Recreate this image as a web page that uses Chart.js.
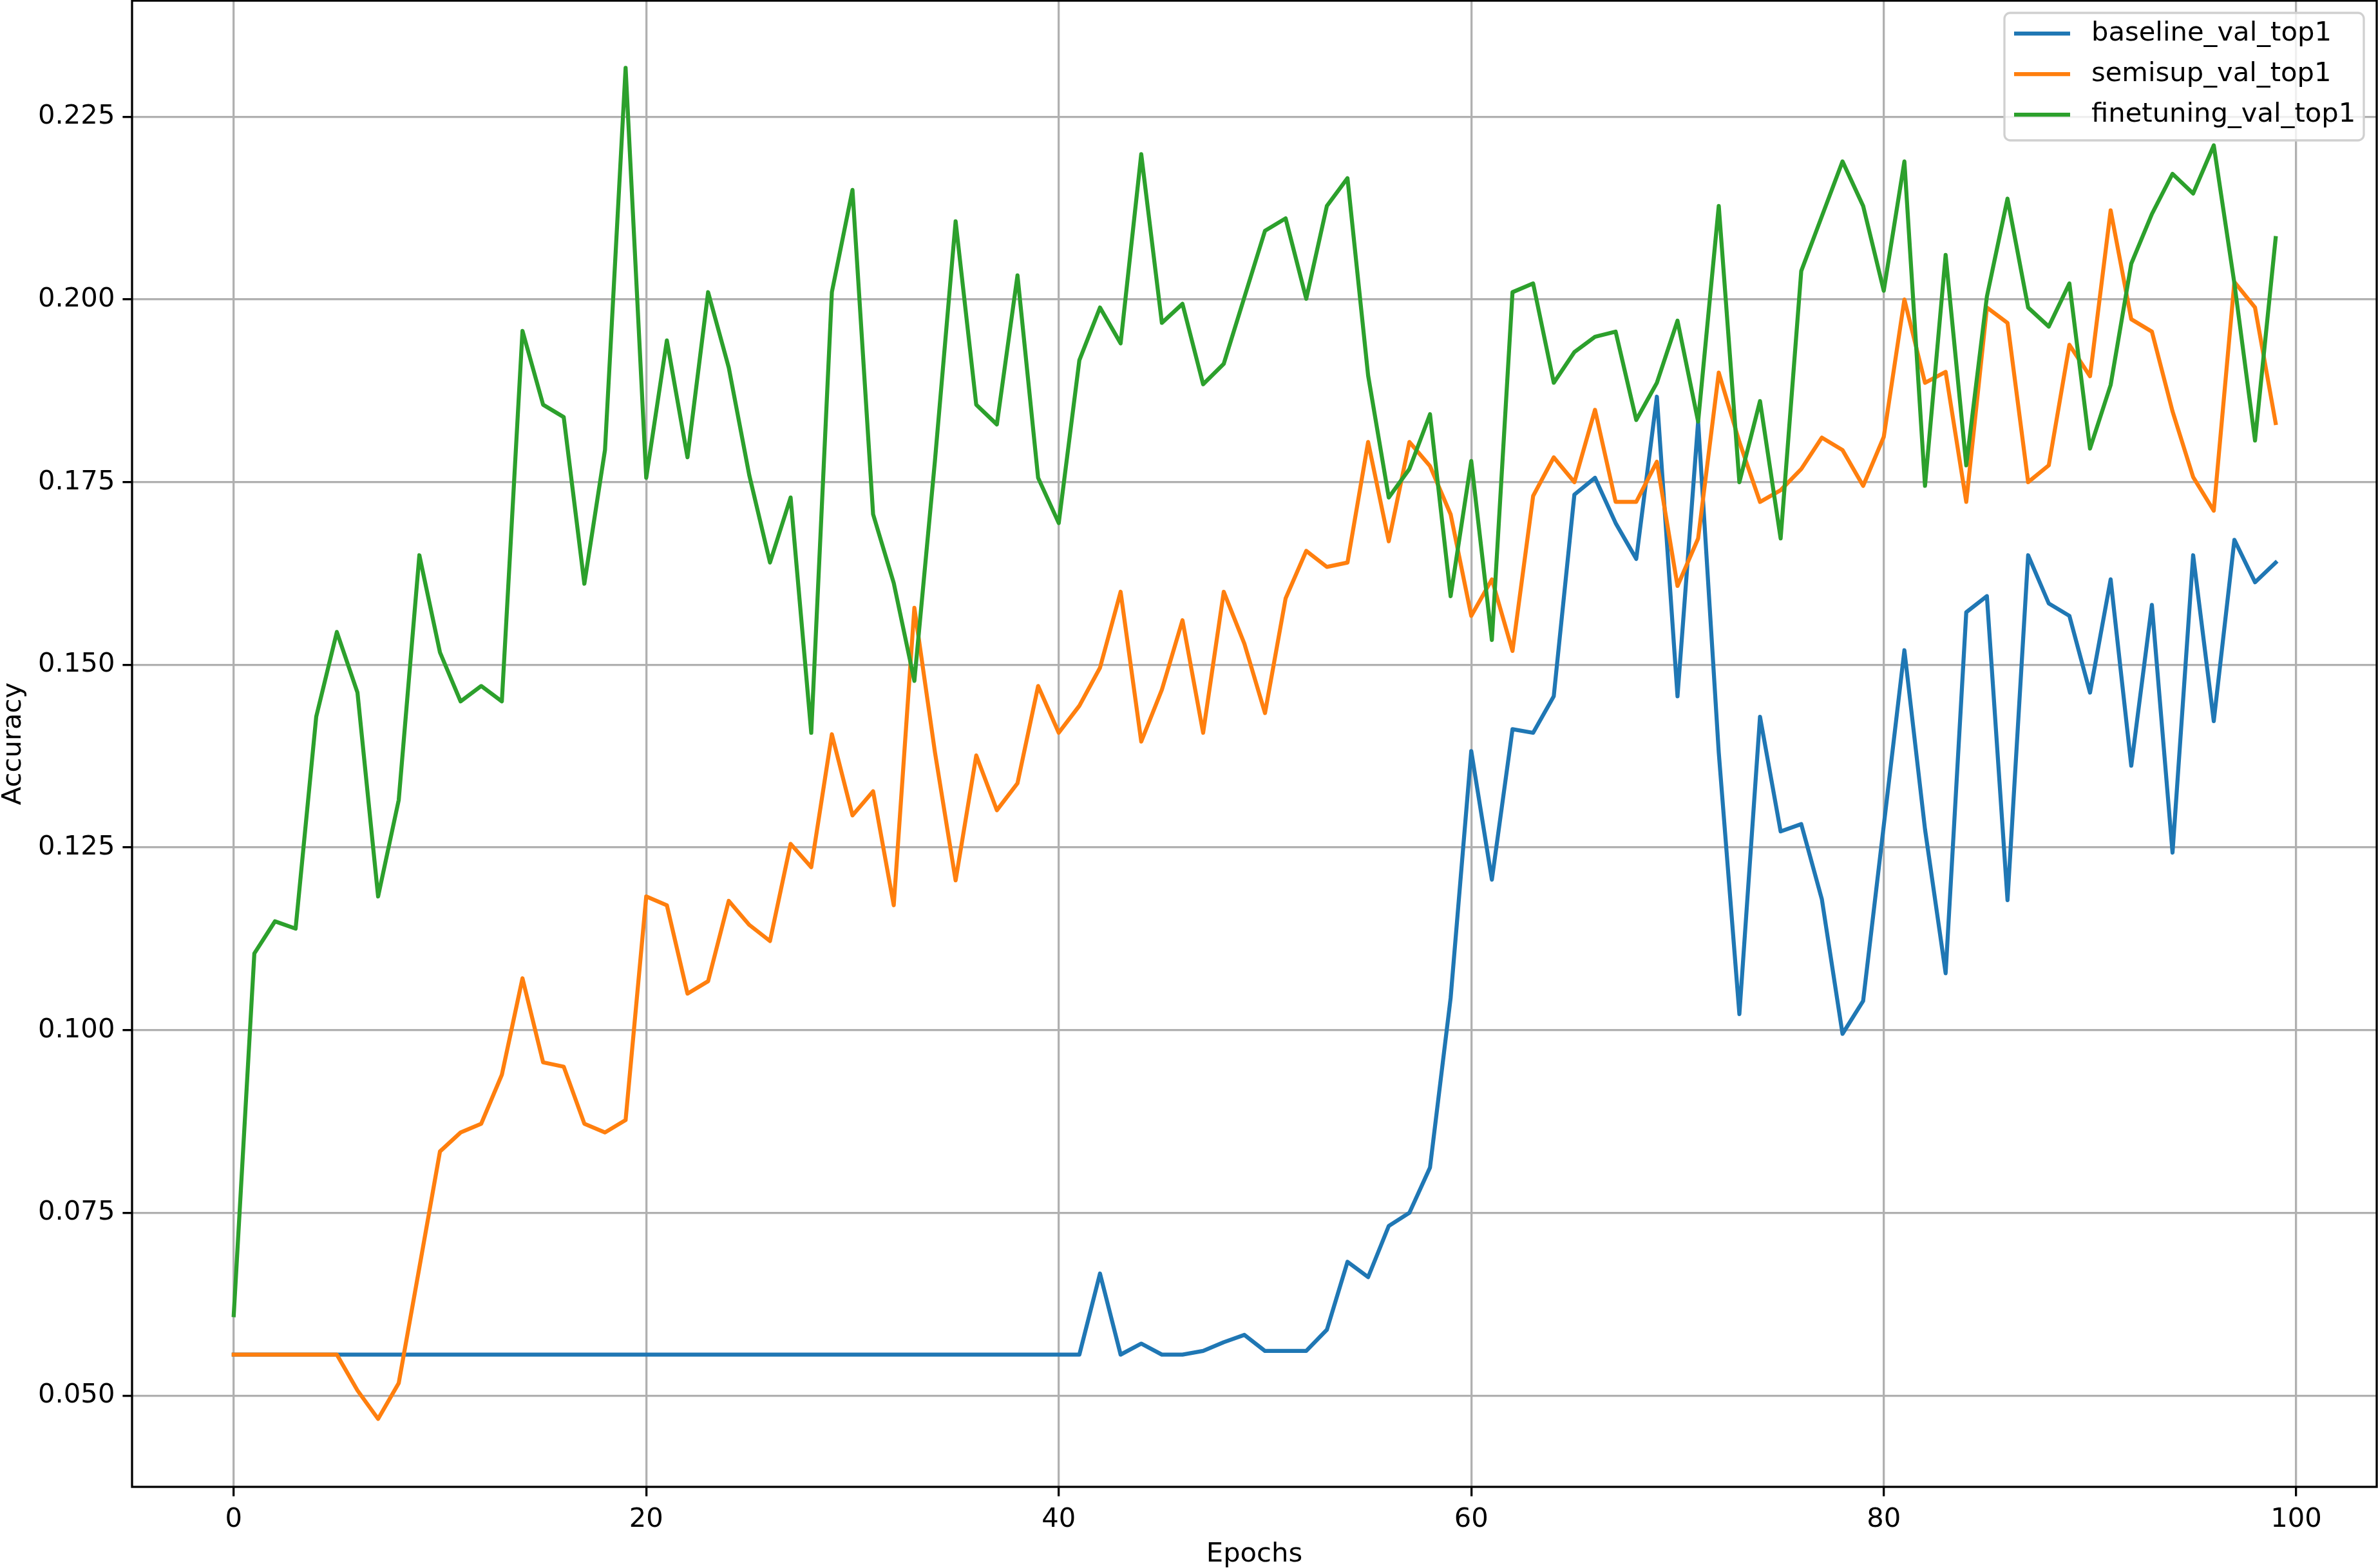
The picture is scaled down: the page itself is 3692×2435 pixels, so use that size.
<!DOCTYPE html>
<html>
<head>
<meta charset="utf-8">
<script src="https://cdn.jsdelivr.net/npm/chart.js@4.4.1/dist/chart.umd.min.js"></script>
<style>
  html, body { margin: 0; padding: 0; background: #fff; }
  #chart { display: block; }
</style>
</head>
<body>
<canvas id="chart" width="3692" height="2435"></canvas>
<script>
// epochs 0..99
const epochs = Array.from({ length: 100 }, (_, i) => i);
const xTicks = [0, 20, 40, 60, 80, 100];
const yTicks = [0.050, 0.075, 0.100, 0.125, 0.150, 0.175, 0.200, 0.225];

const baseline = [
    0.0556, 0.0556, 0.0556, 0.0556, 0.0556, 0.0556, 0.0556, 0.0556, 0.0556, 0.0556,
    0.0556, 0.0556, 0.0556, 0.0556, 0.0556, 0.0556, 0.0556, 0.0556, 0.0556, 0.0556,
    0.0556, 0.0556, 0.0556, 0.0556, 0.0556, 0.0556, 0.0556, 0.0556, 0.0556, 0.0556,
    0.0556, 0.0556, 0.0556, 0.0556, 0.0556, 0.0556, 0.0556, 0.0556, 0.0556, 0.0556,
    0.0556, 0.0556, 0.0667, 0.0556, 0.0571, 0.0556, 0.0556, 0.0561, 0.0573, 0.0583,
    0.0561, 0.0561, 0.0561, 0.0590, 0.0683, 0.0662, 0.0732, 0.0750, 0.0812, 0.1044,
    0.1382, 0.1206, 0.1412, 0.1407, 0.1457, 0.1733, 0.1756, 0.1694, 0.1645, 0.1867,
    0.1457, 0.1833, 0.1380, 0.1022, 0.1429, 0.1272, 0.1282, 0.1179, 0.0995, 0.1040,
    0.1280, 0.1520, 0.1275, 0.1078, 0.1572, 0.1594, 0.1178, 0.1650, 0.1584, 0.1567,
    0.1462, 0.1617, 0.1362, 0.1582, 0.1243, 0.1650, 0.1423, 0.1671, 0.1613, 0.1640
];

const semisup = [
    0.0556, 0.0556, 0.0556, 0.0556, 0.0556, 0.0556, 0.0507, 0.0468, 0.0517, 0.0675,
    0.0834, 0.0860, 0.0872, 0.0939, 0.1071, 0.0956, 0.0950, 0.0872, 0.0860, 0.0877,
    0.1183, 0.1171, 0.1050, 0.1067, 0.1177, 0.1144, 0.1122, 0.1255, 0.1223, 0.1405,
    0.1294, 0.1327, 0.1171, 0.1578, 0.1380, 0.1205, 0.1376, 0.1301, 0.1338, 0.1471,
    0.1407, 0.1444, 0.1496, 0.1600, 0.1395, 0.1466, 0.1561, 0.1407, 0.1600, 0.1529,
    0.1434, 0.1591, 0.1656, 0.1634, 0.1640, 0.1805, 0.1669, 0.1805, 0.1772, 0.1706,
    0.1567, 0.1617, 0.1519, 0.1731, 0.1784, 0.1750, 0.1849, 0.1723, 0.1723, 0.1778,
    0.1608, 0.1673, 0.1900, 0.1805, 0.1723, 0.1739, 0.1768, 0.1811, 0.1794, 0.1745,
    0.1812, 0.2000, 0.1886, 0.1901, 0.1723, 0.1989, 0.1968, 0.1750, 0.1773, 0.1938,
    0.1895, 0.2122, 0.1973, 0.1956, 0.1847, 0.1757, 0.1711, 0.2024, 0.1989, 0.1831
];

const finetuning = [
    0.0610, 0.1105, 0.1149, 0.1139, 0.1429, 0.1545, 0.1462, 0.1183, 0.1315, 0.1650,
    0.1517, 0.1450, 0.1471, 0.1450, 0.1957, 0.1856, 0.1839, 0.1611, 0.1794, 0.2317,
    0.1756, 0.1944, 0.1784, 0.2010, 0.1907, 0.1759, 0.1640, 0.1729, 0.1407, 0.2010,
    0.2150, 0.1706, 0.1612, 0.1478, 0.1780, 0.2107, 0.1856, 0.1829, 0.2033, 0.1756,
    0.1694, 0.1917, 0.1989, 0.1940, 0.2199, 0.1968, 0.1994, 0.1884, 0.1912, 0.2003,
    0.2094, 0.2111, 0.2001, 0.2128, 0.2166, 0.1896, 0.1729, 0.1768, 0.1843, 0.1594,
    0.1779, 0.1534, 0.2010, 0.2022, 0.1886, 0.1928, 0.1949, 0.1956, 0.1835, 0.1886,
    0.1971, 0.1833, 0.2128, 0.1750, 0.1861, 0.1673, 0.2039, 0.2114, 0.2189, 0.2128,
    0.2012, 0.2189, 0.1745, 0.2061, 0.1773, 0.2004, 0.2138, 0.1989, 0.1963, 0.2022,
    0.1796, 0.1883, 0.2049, 0.2117, 0.2172, 0.2145, 0.2211, 0.2022, 0.1807, 0.2084
];

const FONT = "'DejaVu Sans', sans-serif";
const FS = 41.7;
const LW = 6.25;

Chart.defaults.font.family = FONT;
Chart.defaults.font.size = FS;
Chart.defaults.color = "#000";

// black frame on all four sides, like matplotlib spines
const spines = {
    id: "spines",
    afterDraw(chart) {
        const { ctx, chartArea: a } = chart;
        ctx.save();
        ctx.strokeStyle = "#000";
        ctx.lineWidth = 3.3;
        ctx.strokeRect(a.left, a.top, a.right - a.left, a.bottom - a.top);
        ctx.restore();
    }
};

// legend box in the upper right corner
const boxLegend = {
    id: "boxLegend",
    afterDraw(chart) {
        const { ctx } = chart;
        const x0 = 3112, y0 = 20, w = 558, h = 198;
        ctx.save();
        ctx.fillStyle = "rgba(255,255,255,0.8)";
        ctx.strokeStyle = "#d0d0d0";
        ctx.lineWidth = 3.3;
        ctx.beginPath();
        ctx.roundRect(x0, y0, w, h, 9);
        ctx.fill();
        ctx.stroke();
        ctx.font = FS + "px " + FONT;
        ctx.textBaseline = "middle";
        ctx.textAlign = "left";
        chart.data.datasets.forEach((ds, i) => {
            const y = 52 + i * 63;
            ctx.strokeStyle = ds.borderColor;
            ctx.lineWidth = LW;
            ctx.beginPath();
            ctx.moveTo(3127, y);
            ctx.lineTo(3214, y);
            ctx.stroke();
            ctx.fillStyle = "#000";
            ctx.fillText(ds.label, 3247, y);
        });
        ctx.restore();
    }
};

const lineStyle = {
    fill: false,
    tension: 0,
    pointRadius: 0,
    borderWidth: LW,
    borderJoinStyle: "round",
    borderCapStyle: "square"
};

new Chart(document.getElementById("chart"), {
    type: "line",
    data: {
        labels: epochs,
        datasets: [
            { label: "baseline_val_top1", data: baseline, borderColor: "#1f77b4", order: 3, ...lineStyle },
            { label: "semisup_val_top1", data: semisup, borderColor: "#ff7f0e", order: 2, ...lineStyle },
            { label: "finetuning_val_top1", data: finetuning, borderColor: "#2ca02c", order: 1, ...lineStyle }
        ]
    },
    options: {
        responsive: false,
        animation: false,
        devicePixelRatio: 1,
        layout: { padding: { top: 1, right: 2, left: 0, bottom: 0 } },
        plugins: {
            legend: { display: false },
            tooltip: { enabled: false }
        },
        scales: {
            x: {
                type: "linear",
                min: -4.93,
                max: 103.9,
                afterBuildTicks: (s) => { s.ticks = xTicks.map(v => ({ value: v })); },
                afterFit: (s) => { s.height = 126; s.paddingLeft = 0; s.paddingRight = 0; },
                ticks: { padding: 12, maxRotation: 0, autoSkip: false, callback: v => String(v) },
                grid: { color: "#b0b0b0", lineWidth: 3.3, tickColor: "#000", tickWidth: 3.3, tickLength: 14.6 },
                border: { display: false },
                title: { display: true, text: "Epochs", font: { size: FS, lineHeight: 1.0 }, padding: 0 }
            },
            y: {
                min: 0.0375,
                max: 0.2409,
                afterBuildTicks: (s) => { s.ticks = yTicks.map(v => ({ value: v })); },
                afterFit: (s) => { s.width = 205; s.paddingTop = 0; s.paddingBottom = 0; },
                ticks: { padding: 12, autoSkip: false, callback: v => v.toFixed(3) },
                grid: { color: "#b0b0b0", lineWidth: 3.3, tickColor: "#000", tickWidth: 3.3, tickLength: 14.6 },
                border: { display: false },
                title: { display: true, text: "Accuracy", font: { size: FS, lineHeight: 1.0 }, padding: 0 }
            }
        }
    },
    plugins: [spines, boxLegend]
});
</script>
</body>
</html>
